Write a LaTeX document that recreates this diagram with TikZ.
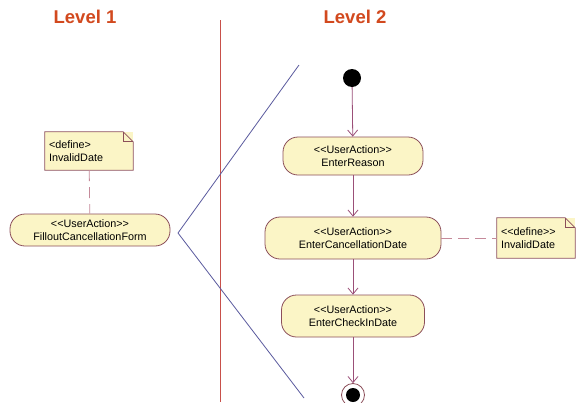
\documentclass[tikz,border=0pt]{standalone}
\usepackage{fontspec}
\setmainfont{Liberation Sans}
\usetikzlibrary{arrows.meta}
\definecolor{actfill}{HTML}{FBF5C6}
\definecolor{actdraw}{HTML}{8C4F5A}
\definecolor{flowcol}{HTML}{9B4F78}
\definecolor{linkcol}{HTML}{C58A9A}
\definecolor{levelcol}{HTML}{D2491E}
\definecolor{cutcol}{HTML}{5A5A9E}
\definecolor{sepcol}{HTML}{C8504A}
\begin{document}
\begin{tikzpicture}[x=1pt,y=-1pt,
    action/.style ={rectangle, rounded corners=15pt, draw=actdraw, fill=actfill, thick, align=center, inner sep=1pt, font=\fontsize{10.8}{12.5}\selectfont},
    note/.style ={rectangle, fill=actfill, align=left, inner sep=3pt, font=\fontsize{10.8}{12.5}\selectfont},
    level/.style ={font=\fontsize{18.5}{20}\selectfont\bfseries, text=levelcol},
    flow/.style ={draw=flowcol, thick, -{Straight Barb[length=6pt,width=10pt]}},
    link/.style ={draw=linkcol, thick, dash pattern=on 11pt off 6pt}]
   \useasboundingbox[fill=white] (0,0) rectangle (576,402);
   % titles
   \node[level] (lvlA) at (85,17) {Level 1};
   \node[level] (lvlB) at (355,17) {Level 2};
   % separator and zoom lines
   \coordinate (sepTop) at (220,20);
   \coordinate (sepEnd) at (220,402);
   \draw[sepcol, thick] (sepTop) -- (sepEnd);
   \coordinate (cutTop) at (299,65);
   \coordinate (cutTip) at (178,233);
   \coordinate (cutEnd) at (304,398);
   \draw[cutcol, thick] (cutTop) -- (cutTip) -- (cutEnd);
   % level 1
   \node[note, minimum width=88pt, minimum height=38pt, text width=80pt] (noteL) at (89,151) {<define>\\InvalidDate};
   \draw[actdraw, thick] (noteL.north west) -- ([xshift=-10pt]noteL.north east) -- ([yshift=-10pt]noteL.north east) -- (noteL.south east) -- (noteL.south west) -- cycle;
   \draw[actdraw, thick] ([xshift=-10pt]noteL.north east) -- ([xshift=-10pt,yshift=-10pt]noteL.north east) -- ([yshift=-10pt]noteL.north east);
   \node[action, minimum width=160pt, minimum height=32pt] (fillForm) at (90,230) {<{}<UserAction>{}>\\FilloutCancellationForm};
   \draw[link] (noteL) -- (fillForm);
   % level 2
   \node[circle, fill=black, inner sep=0pt, minimum size=18pt] (start) at (352,78) {};
   \node[action, minimum width=140pt, minimum height=38pt] (reason) at (353,156) {<{}<UserAction>{}>\\EnterReason};
   \node[action, minimum width=176pt, minimum height=42pt] (cancelDate) at (353,238) {<{}<UserAction>{}>\\EnterCancellationDate};
   \node[action, minimum width=143pt, minimum height=42pt] (checkIn) at (353,316) {<{}<UserAction>{}>\\EnterCheckInDate};
   \node[circle, draw=actdraw, thick, fill=white, inner sep=0pt, minimum size=23pt] (final) at (353,395) {};
   \node[circle, fill=black, inner sep=0pt, minimum size=14pt] (finalDot) at (final) {};
   \node[note, minimum width=78pt, minimum height=40pt, text width=70pt] (noteR) at (536,238) {<{}<define>{}>\\InvalidDate};
   \draw[actdraw, thick] (noteR.north west) -- ([xshift=-10pt]noteR.north east) -- ([yshift=-10pt]noteR.north east) -- (noteR.south east) -- (noteR.south west) -- cycle;
   \draw[actdraw, thick] ([xshift=-10pt]noteR.north east) -- ([xshift=-10pt,yshift=-10pt]noteR.north east) -- ([yshift=-10pt]noteR.north east);
   \draw[flow] (start) -- (reason);
   \draw[flow] (reason) -- (cancelDate);
   \draw[flow] (cancelDate) -- (checkIn);
   \draw[flow] (checkIn) -- (final);
   \draw[link] (cancelDate) -- (noteR);
\end{tikzpicture}
\end{document}
